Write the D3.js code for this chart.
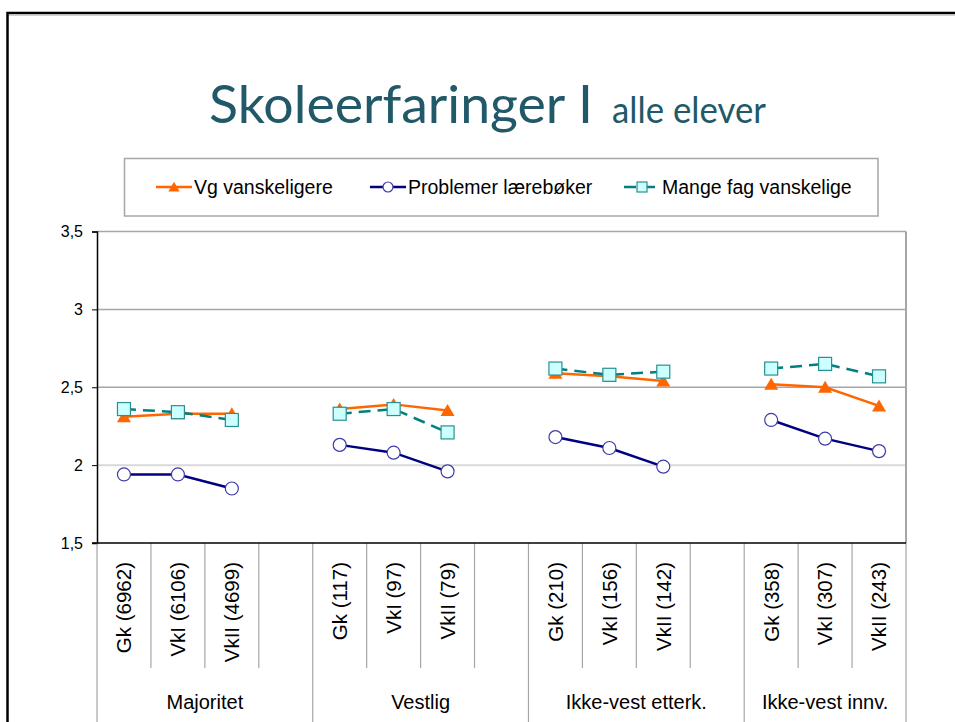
<!DOCTYPE html>
<html><head><meta charset="utf-8">
<script src="https://cdn.jsdelivr.net/npm/d3@7"></script>
<style>
html,body{margin:0;padding:0;background:#fff;}
svg{display:block;}
</style></head>
<body>
<svg id="chart" width="955" height="722"></svg>
<script>
// ---- data ----
const groups = ["Majoritet", "Vestlig", "Ikke-vest etterk.", "Ikke-vest innv."];
const groupSpans = [[0, 4], [4, 8], [8, 12], [12, 15]];
const categories = ["Gk (6962)", "VkI (6106)", "VkII (4699)", "",
                    "Gk (117)", "VkI (97)", "VkII (79)", "",
                    "Gk (210)", "VkI (156)", "VkII (142)", "",
                    "Gk (358)", "VkI (307)", "VkII (243)"];
const vgVanskeligere = [2.31, 2.33, 2.33, null, 2.36, 2.39, 2.35, null, 2.59, 2.57, 2.54, null, 2.52, 2.50, 2.38];
const problemerLaereboker = [1.94, 1.94, 1.85, null, 2.13, 2.08, 1.96, null, 2.18, 2.11, 1.99, null, 2.29, 2.17, 2.09];
const mangeFagVanskelige = [2.36, 2.34, 2.29, null, 2.33, 2.36, 2.21, null, 2.62, 2.58, 2.60, null, 2.62, 2.65, 2.57];
const seriesNames = ["Vg vanskeligere", "Problemer lærebøker", "Mange fag vanskelige"];
const yTicks = [1.5, 2, 2.5, 3, 3.5];
const yTickLabels = ["1,5", "2", "2,5", "3", "3,5"];

// ---- layout ----
const svg = d3.select("#chart");
const L = 97, R = 906, T = 231.5, B = 543;
const slots = d3.range(categories.length);
const x = d3.scaleBand().domain(slots).range([L, R]).padding(0);
const cx = i => x(i) + x.bandwidth() / 2;
const y = d3.scaleLinear().domain([1.5, 3.5]).range([B, T]);

// slide border
svg.append("line").attr("x1", 8).attr("x2", 955).attr("y1", 15.5).attr("y2", 15.5)
  .attr("stroke", "#d0d0d0").attr("stroke-width", 1);
svg.append("rect").attr("x", 7.5).attr("y", 13).attr("width", 1200).attr("height", 1200)
  .attr("fill", "none").attr("stroke", "#000").attr("stroke-width", 2.5);

// title
const title = svg.append("text").attr("x", 209).attr("y", 123)
  .attr("font-family", "Lato, 'Open Sans', sans-serif").attr("fill", "#215968");
title.append("tspan").attr("font-size", 53).text("Skoleerfaringer I")
  .attr("textLength", 384).attr("lengthAdjust", "spacingAndGlyphs");
title.append("tspan").attr("x", 612).attr("font-size", 36).text("alle elever")
  .attr("textLength", 154).attr("lengthAdjust", "spacingAndGlyphs");

// legend
svg.append("rect").attr("x", 124.5).attr("y", 158.5).attr("width", 753.5).attr("height", 57.5)
  .attr("fill", "#fff").attr("stroke", "#a6a6a6").attr("stroke-width", 1.5);

const triPath = (px, py, s) => `M${px},${py - 6.5 * s}L${px + 7 * s},${py + 5.5 * s}L${px - 7 * s},${py + 5.5 * s}Z`;

// gridlines
const gridG = svg.append("g");
yTicks.forEach(t => {
  if (t === 1.5) return;
  gridG.append("line").attr("x1", L).attr("x2", R).attr("y1", y(t)).attr("y2", y(t))
    .attr("stroke", t === 2 ? "#d9d9d9" : "#a6a6a6").attr("stroke-width", t === 2 ? 2 : 1.5);
});
// right border
svg.append("line").attr("x1", R).attr("x2", R).attr("y1", T).attr("y2", B)
  .attr("stroke", "#a6a6a6").attr("stroke-width", 2);

// y axis
const yAxis = d3.axisLeft(y).tickValues(yTicks).tickSize(5).tickPadding(9)
  .tickFormat((d, i) => yTickLabels[i]);
const yg = svg.append("g").attr("transform", `translate(${L},0)`).call(yAxis);
yg.select(".domain").attr("stroke", "#000").attr("stroke-width", 1.5);
yg.selectAll(".tick line").attr("stroke", "#000");
yg.selectAll(".tick text").attr("font-family", "'Liberation Sans', Arial, sans-serif")
  .attr("font-size", 16).attr("fill", "#000");

// category axis
const catG = svg.append("g");
const groupEdges = new Set([0, 4, 8, 12, 15]);
d3.range(categories.length + 1).forEach(k => {
  const xx = k < categories.length ? x(k) : R;
  catG.append("line").attr("x1", xx).attr("x2", xx).attr("y1", B)
    .attr("y2", groupEdges.has(k) ? 730 : 668)
    .attr("stroke", "#a6a6a6").attr("stroke-width", 1.2);
});
svg.append("line").attr("x1", L - 5).attr("x2", R).attr("y1", B).attr("y2", B)
  .attr("stroke", "#000").attr("stroke-width", 1.5);
catG.selectAll("text.cat").data(categories).enter().append("text").attr("class", "cat")
  .attr("transform", (d, i) => `translate(${cx(i)},562) rotate(-90)`)
  .attr("dy", "0.36em").attr("text-anchor", "end")
  .attr("font-family", "'Liberation Sans', Arial, sans-serif").attr("font-size", 20.5)
  .attr("fill", "#000").text(d => d);
catG.selectAll("text.grp").data(groups).enter().append("text").attr("class", "grp")
  .attr("x", (d, i) => (x(groupSpans[i][0]) + (groupSpans[i][1] < categories.length ? x(groupSpans[i][1]) : R)) / 2)
  .attr("y", 709).attr("text-anchor", "middle")
  .attr("font-family", "'Liberation Sans', Arial, sans-serif").attr("font-size", 20)
  .attr("fill", "#000").text(d => d);

// series
const line = d3.line().defined(d => d.v != null).x(d => cx(d.i)).y(d => y(d.v));
const toPts = arr => arr.map((v, i) => ({ v, i }));

// Vg vanskeligere
const vgPts = toPts(vgVanskeligere);
svg.append("path").attr("d", line(vgPts)).attr("fill", "none")
  .attr("stroke", "#ff6600").attr("stroke-width", 2.5);
svg.append("g").selectAll("path").data(vgPts.filter(d => d.v != null)).enter().append("path")
  .attr("d", d => triPath(cx(d.i), y(d.v), 1)).attr("fill", "#ff6600");

// Problemer lærebøker
const prPts = toPts(problemerLaereboker);
svg.append("path").attr("d", line(prPts)).attr("fill", "none")
  .attr("stroke", "#000080").attr("stroke-width", 2.5);
svg.append("g").selectAll("circle").data(prPts.filter(d => d.v != null)).enter().append("circle")
  .attr("cx", d => cx(d.i)).attr("cy", d => y(d.v)).attr("r", 6.5)
  .attr("fill", "#fff").attr("stroke", "#3c3ca8").attr("stroke-width", 1.2);

// Mange fag vanskelige
const mfPts = toPts(mangeFagVanskelige);
svg.append("path").attr("d", line(mfPts)).attr("fill", "none")
  .attr("stroke", "#008080").attr("stroke-width", 2.5).attr("stroke-dasharray", "12,7");
svg.append("g").selectAll("rect").data(mfPts.filter(d => d.v != null)).enter().append("rect")
  .attr("x", d => cx(d.i) - 6.5).attr("y", d => y(d.v) - 6.5).attr("width", 13).attr("height", 13)
  .attr("fill", "#ccffff").attr("stroke", "#2a9090").attr("stroke-width", 1.2);

// legend entries
const legY = 187;
const legItems = [
  { x0: 156, name: seriesNames[0] },
  { x0: 370, name: seriesNames[1] },
  { x0: 624, name: seriesNames[2] }
];
const lg = svg.append("g");
lg.append("line").attr("x1", 156).attr("x2", 192).attr("y1", legY).attr("y2", legY)
  .attr("stroke", "#ff6600").attr("stroke-width", 2.5);
lg.append("path").attr("d", triPath(174, legY, 0.8)).attr("fill", "#ff6600");
lg.append("line").attr("x1", 370).attr("x2", 406).attr("y1", legY).attr("y2", legY)
  .attr("stroke", "#000080").attr("stroke-width", 2.5);
lg.append("circle").attr("cx", 388).attr("cy", legY).attr("r", 5)
  .attr("fill", "#fff").attr("stroke", "#3c3ca8").attr("stroke-width", 1.2);
lg.append("line").attr("x1", 624).attr("x2", 660).attr("y1", legY).attr("y2", legY)
  .attr("stroke", "#008080").attr("stroke-width", 2.5).attr("stroke-dasharray", "12,7");
lg.append("rect").attr("x", 637).attr("y", legY - 5).attr("width", 10).attr("height", 10)
  .attr("fill", "#ccffff").attr("stroke", "#2a9090").attr("stroke-width", 1.2);
lg.selectAll("text").data(legItems).enter().append("text")
  .attr("x", d => d.x0 + 38).attr("y", legY + 6.5)
  .attr("font-family", "'Liberation Sans', Arial, sans-serif").attr("font-size", 19.5)
  .attr("fill", "#000").text(d => d.name);
</script>
</body></html>
